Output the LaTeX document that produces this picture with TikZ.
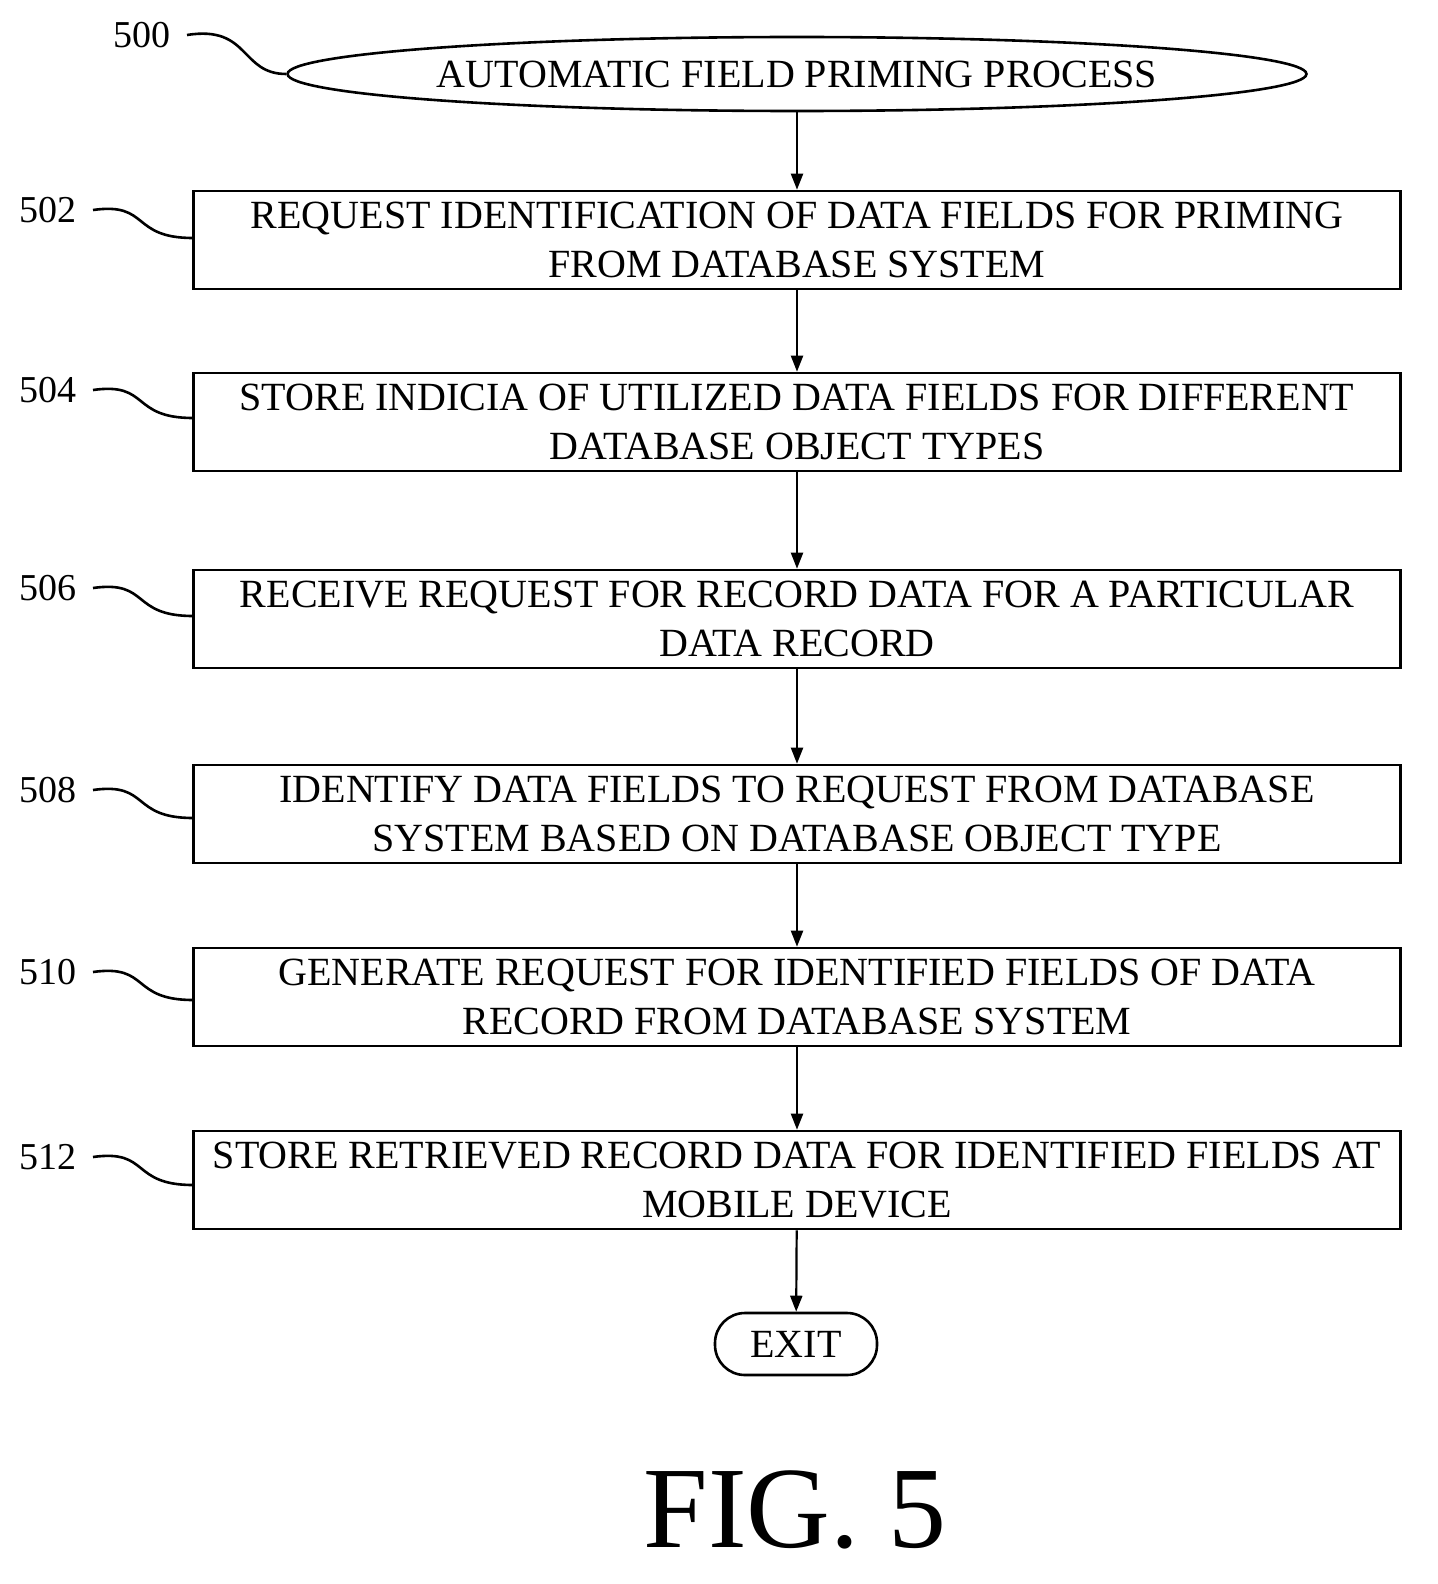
\documentclass[tikz,border=0pt]{standalone}
\usepackage{fontspec}
\setmainfont{Liberation Serif}
\usetikzlibrary{shapes.geometric,arrows.meta}
\begin{document}
\begin{tikzpicture}[x=0.5pt,y=-0.5pt,
 box/.style={draw,line width=1.3pt,minimum width=603.5pt,minimum height=49pt,align=center,font=\fontsize{20}{24.5}\selectfont,inner sep=0pt},
 lab/.style={font=\fontsize{19}{22}\selectfont},
 arr/.style={-{Triangle[length=8pt,width=6pt]},line width=1.1pt},
 lead/.style={line width=1.3pt}]
\useasboundingbox (0,0) rectangle (1437,1584);
\node[draw,ellipse,line width=1.3pt,minimum width=498pt,minimum height=37pt,font=\fontsize{20}{22}\selectfont,inner sep=0pt] (s) at (797,74) {AUTOMATIC FIELD PRIMING PROCESS};
\node[box] (b1) at (797,240) {REQUEST IDENTIFICATION OF DATA FIELDS FOR PRIMING\\FROM DATABASE SYSTEM};
\node[box] (b2) at (797,422) {STORE INDICIA OF UTILIZED DATA FIELDS FOR DIFFERENT\\DATABASE OBJECT TYPES};
\node[box] (b3) at (797,619) {RECEIVE REQUEST FOR RECORD DATA FOR A PARTICULAR\\DATA RECORD};
\node[box] (b4) at (797,814) {IDENTIFY DATA FIELDS TO REQUEST FROM DATABASE\\SYSTEM BASED ON DATABASE OBJECT TYPE};
\node[box] (b5) at (797,997) {GENERATE REQUEST FOR IDENTIFIED FIELDS OF DATA\\RECORD FROM DATABASE SYSTEM};
\node[box] (b6) at (797,1180) {STORE RETRIEVED RECORD DATA FOR IDENTIFIED FIELDS AT\\MOBILE DEVICE};
\node[draw,rounded corners=15pt,line width=1.3pt,minimum width=81pt,minimum height=31pt,font=\fontsize{20}{22}\selectfont,inner sep=0pt] (e) at (796,1344) {EXIT};
\draw[arr] (s) -- (b1);
\draw[arr] (b1) -- (b2);
\draw[arr] (b2) -- (b3);
\draw[arr] (b3) -- (b4);
\draw[arr] (b4) -- (b5);
\draw[arr] (b5) -- (b6);
\draw[arr] (b6) -- (e);
\node[lab] (l0) at (142,35) {500};
\draw[lead] (187,35) .. controls (250,25) and (240,74) .. (s.west);
\foreach \n/\y/\t in {l1/210/502,l2/390/504,l3/588/506,l4/790/508,l5/972/510,l6/1157/512}{
 \node[lab] (\n) at (48,\y) {\t};
 \draw[lead] (93,\y) .. controls (150,\y-8) and (130,\y+28) .. (193,\y+28);
}
\node[font=\fontsize{58}{60}\selectfont] (f) at (795,1510) {FIG. 5};
\end{tikzpicture}
\end{document}
